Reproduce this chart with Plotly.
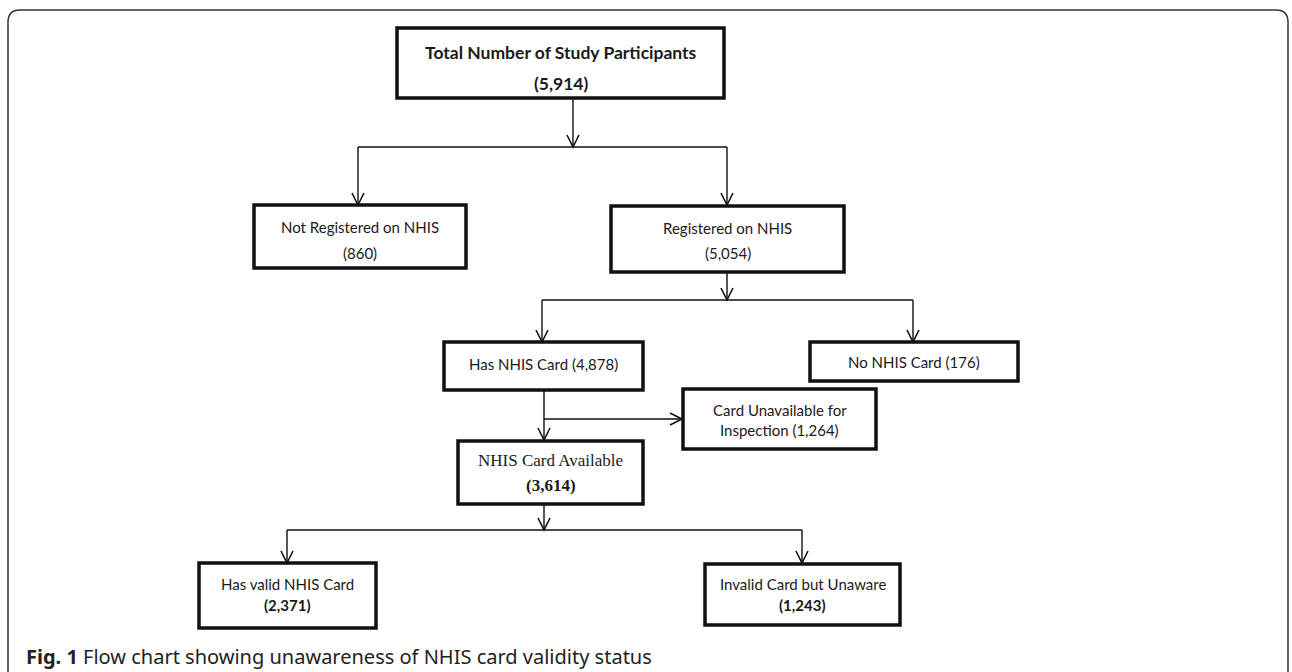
import plotly.graph_objects as go

# ---- data ----
node_labels = [
    "Total Number of Study Participants",
    "Not Registered on NHIS",
    "Registered on NHIS",
    "Has NHIS Card",
    "No NHIS Card",
    "Card Unavailable for Inspection",
    "NHIS Card Available",
    "Has valid NHIS Card",
    "Invalid Card but Unaware",
]
node_counts = [5914, 860, 5054, 4878, 176, 1264, 3614, 2371, 1243]
caption_bold = "Fig. 1"
caption_text = "Flow chart showing unawareness of NHIS card validity status"

# ---- layout (pixel geometry of the flow chart) ----
W, H = 1292, 672
boxes = [  # x0, x1, y0, y1
    (397, 724, 28, 98),
    (254, 466, 205, 268),
    (611, 844, 206, 272),
    (444, 643, 342, 390),
    (810, 1018, 342, 381),
    (683, 876, 389, 449),
    (458, 643, 441, 504),
    (199, 376, 563, 628),
    (705, 900, 564, 625),
]
INK = "#111111"
CAL = "Lato"
SERIF = "Liberation Serif"
RS = 15      # regular box text size
BS = 17.5    # bold title size


def fmt(n):
    return f"{n:,}"


texts = [
    dict(lines=[f"<b>{node_labels[0]}</b>", f"<b>({fmt(node_counts[0])})</b>"], ys=[52, 83], font=CAL, size=BS),
    dict(lines=[node_labels[1], f"({fmt(node_counts[1])})"], ys=[227, 253], font=CAL, size=RS),
    dict(lines=[node_labels[2], f"({fmt(node_counts[2])})"], ys=[228, 253], font=CAL, size=RS),
    dict(lines=[f"{node_labels[3]} ({fmt(node_counts[3])})"], ys=[364], font=CAL, size=RS),
    dict(lines=[f"{node_labels[4]} ({fmt(node_counts[4])})"], ys=[362], font=CAL, size=RS),
    dict(lines=["Card Unavailable for", f"Inspection ({fmt(node_counts[5])})"], ys=[410, 430], font=CAL, size=RS),
    dict(lines=[node_labels[6], f"<b>({fmt(node_counts[6])})</b>"], ys=[460, 485], font=SERIF, size=17),
    dict(lines=[node_labels[7], f"<b>({fmt(node_counts[7])})</b>"], ys=[584, 605], font=CAL, size=RS),
    dict(lines=[node_labels[8], f"<b>({fmt(node_counts[8])})</b>"], ys=[584, 605], font=CAL, size=RS),
]

# connectors: plain lines and arrows (x0,y0,x1,y1)
plain = [
    (358, 147, 727, 147),
    (542, 300, 913, 300),
    (287, 530, 802, 530),
]
arrows = [
    (573, 98, 573, 147),
    (358, 147, 358, 205),
    (727, 147, 727, 205),
    (727, 272, 727, 300),
    (542, 300, 542, 342),
    (913, 300, 913, 342),
    (544, 390, 544, 440),
    (544, 419, 682, 419),
    (544, 504, 544, 530),
    (287, 530, 287, 563),
    (802, 530, 802, 563),
]

fig = go.Figure()
shapes = []

# outer rounded frame
r = 12
x0, y0, x1, y1 = 8, 10, 1288, 700
frame = (f"M {x0+r},{y0} L {x1-r},{y0} Q {x1},{y0} {x1},{y0+r} L {x1},{y1-r} "
         f"Q {x1},{y1} {x1-r},{y1} L {x0+r},{y1} Q {x0},{y1} {x0},{y1-r} L {x0},{y0+r} Q {x0},{y0} {x0+r},{y0} Z")
shapes.append(dict(type="path", path=frame, line=dict(color="#333333", width=1.5), layer="below"))

for (bx0, bx1, by0, by1) in boxes:
    shapes.append(dict(type="rect", x0=bx0, x1=bx1, y0=by0, y1=by1,
                       line=dict(color=INK, width=3.5), fillcolor="rgba(0,0,0,0)"))

for (a, b, c, d) in plain:
    shapes.append(dict(type="line", x0=a, y0=b, x1=c, y1=d, line=dict(color=INK, width=1.4)))

hl, hw = 12, 6
for (a, b, c, d) in arrows:
    shapes.append(dict(type="line", x0=a, y0=b, x1=c, y1=d, line=dict(color=INK, width=1.4)))
    if a == c:  # vertical, pointing down
        p = f"M {c-hw},{d-hl} L {c},{d} L {c+hw},{d-hl}"
    else:  # horizontal, pointing right
        p = f"M {c-hl},{d-hw} L {c},{d} L {c-hl},{d+hw}"
    shapes.append(dict(type="path", path=p, line=dict(color=INK, width=1.6)))

annotations = []
for (bx0, bx1, by0, by1), t in zip(boxes, texts):
    cx = (bx0 + bx1) / 2
    for line, y in zip(t["lines"], t["ys"]):
        annotations.append(dict(x=cx, y=y, text=line, showarrow=False, xanchor="center", yanchor="middle",
                                font=dict(family=t["font"], size=t["size"], color="#1a1a1a")))

annotations.append(dict(x=24, y=656, xanchor="left", yanchor="middle", showarrow=False,
                        text=f"<b>{caption_bold}</b> {caption_text}",
                        font=dict(family="Noto Sans", size=20, color="#222222")))

fig.update_layout(
    width=W, height=H,
    margin=dict(l=0, r=0, t=0, b=0),
    paper_bgcolor="white", plot_bgcolor="white",
    xaxis=dict(range=[0, W], visible=False, fixedrange=True),
    yaxis=dict(range=[H, 0], visible=False, fixedrange=True),
    shapes=shapes, annotations=annotations,
    showlegend=False,
)
fig.write_html("out.html", config={"displayModeBar": False},
               post_script="document.body.style.margin='0';document.body.style.overflow='hidden';")
